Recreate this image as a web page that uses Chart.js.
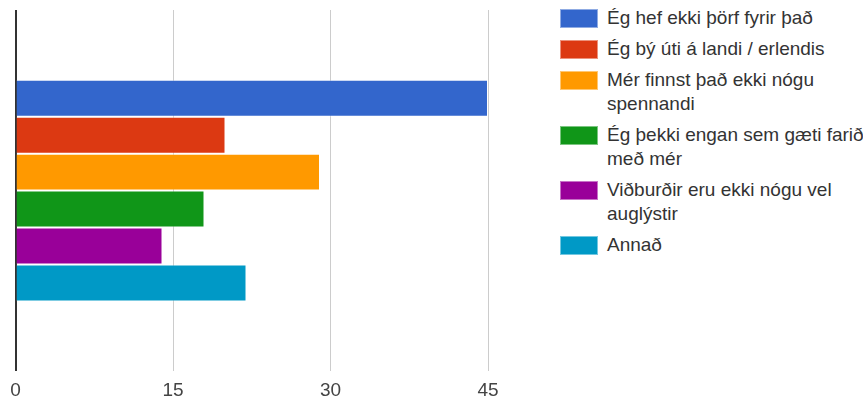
<!DOCTYPE html>
<html>
<head>
<meta charset="utf-8">
<script src="https://cdn.jsdelivr.net/npm/chart.js@4"></script>
<style>
  body { margin: 0; width: 863px; height: 401px; overflow: hidden; background: #fff; font-family: "Liberation Sans", Arial, sans-serif; }
  #wrap { position: absolute; left: 0; top: 0; width: 555px; height: 401px; }
  #legend { position: absolute; left: 560px; top: 6px; width: 320px; }
  .item { display: flex; align-items: flex-start; margin-bottom: 7px; }
  .swatch { width: 38px; height: 19px; flex: none; margin-top: 3px; box-sizing: border-box; border: 1px solid rgba(255,255,255,0.45); }
  .text { margin-left: 9px; width: 262px; font-size: 19px; line-height: 24px; color: #333; }
</style>
</head>
<body>
<div id="wrap"><canvas id="chart"></canvas></div>
<div id="legend"></div>
<script>
// one category, six answers
const categories = [''];
const answers = [
  'Ég hef ekki þörf fyrir það',
  'Ég bý úti á landi / erlendis',
  'Mér finnst það ekki nógu spennandi',
  'Ég þekki engan sem gæti farið með mér',
  'Viðburðir eru ekki nógu vel auglýstir',
  'Annað'
];
const counts = [45, 20, 29, 18, 14, 22];
const colors = ['#3366cc', '#dc3912', '#ff9900', '#109618', '#990099', '#0099c6'];
const tickValues = [0, 15, 30, 45];

const datasets = answers.map((label, i) => ({
  label: label,
  data: [counts[i]],
  backgroundColor: colors[i],
  borderColor: 'rgba(255,255,255,0.45)',
  borderWidth: 1,
  barPercentage: 1,
  categoryPercentage: 0.614
}));

const chart = new Chart(document.getElementById('chart'), {
  type: 'bar',
  data: { labels: categories, datasets: datasets },
  options: {
    indexAxis: 'y',
    responsive: true,
    maintainAspectRatio: false,
    animation: false,
    layout: { padding: { left: 15.5, right: 14.5, top: 10, bottom: -9 } },
    plugins: { legend: { display: false }, tooltip: { enabled: false } },
    scales: {
      y: { display: false },
      x: {
        min: 0,
        max: 50,
        afterBuildTicks: (scale) => {
          scale.ticks = tickValues.map(v => ({ value: v }));
        },
        border: { display: false },
        grid: {
          drawTicks: false,
          color: (ctx) => ctx.tick && ctx.tick.value === 0 ? '#333' : '#cccccc',
          lineWidth: (ctx) => ctx.tick && ctx.tick.value === 0 ? 2 : 1
        },
        ticks: {
          padding: 8,
          color: '#444',
          font: { family: '"Liberation Sans", Arial, sans-serif', size: 19 }
        }
      }
    }
  }
});

// html legend built from the datasets
const legendDiv = document.getElementById('legend');
chart.data.datasets.forEach(ds => {
  const item = document.createElement('div');
  item.className = 'item';
  item.innerHTML = `<div class="swatch" style="background:${ds.backgroundColor}"></div><div class="text">${ds.label}</div>`;
  legendDiv.appendChild(item);
});
</script>
</body>
</html>
